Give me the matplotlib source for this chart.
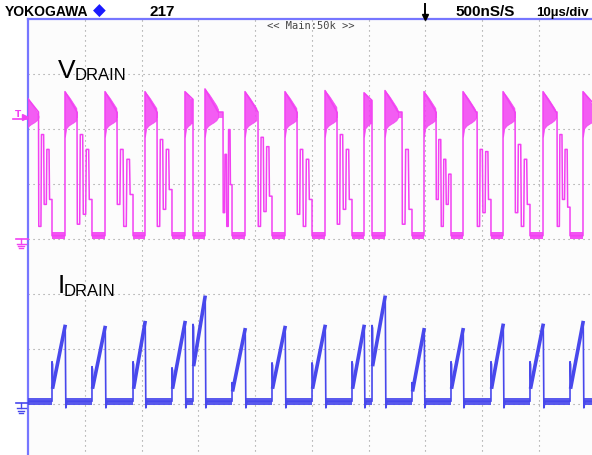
import matplotlib
matplotlib.use("Agg")
import matplotlib.pyplot as plt
from matplotlib.lines import Line2D
import numpy as np

# ---------------- data ----------------
# time axis: 10 us/div, 10 divisions ; vertical: divisions relative to channel ground
t_on_us = [4.18, 11.23, 18.47, 25.34, 29.05, 35.93, 42.98, 50.04, 57.09, 60.62,
           67.67, 74.55, 81.60, 88.48, 95.54]
t_off_us = [6.47, 13.53, 20.58, 27.63, 31.16, 38.22, 45.27, 52.33, 59.21, 62.91,
            69.79, 76.67, 83.73, 90.78, 97.83]

# drain current (div above CH2 ground)
i_peak_div = [1.40, 1.38, 1.47, 1.47, 1.93, 1.34, 1.38, 1.40, 1.40, 1.93,
              1.34, 1.34, 1.42, 1.42, 1.47]
i_spike_div = [0.76, 0.67, 0.76, 0.65, 1.44, 0.38, 0.74, 0.74, 0.76, 1.42,
               0.38, 0.76, 0.76, 0.76, 0.76]
i_ramp0_div = [0.30, 0.30, 0.30, 0.30, 0.71, 0.25, 0.30, 0.30, 0.30, 0.71,
               0.25, 0.30, 0.30, 0.30, 0.30]

# drain voltage (div above CH1 ground); one entry per rising edge (first one before screen start)
v_rise_us = [-0.5] + t_off_us
v_peak_div = [2.60, 2.67, 2.67, 2.67, 2.67, 2.72, 2.67, 2.67, 2.69, 2.65,
              2.69, 2.67, 2.67, 2.67, 2.67, 2.67]
v_plateau_end_us = [1.80, 8.59, 15.64, 22.70, None, 34.34, 40.51, 47.39, 54.44, None,
                    65.91, 71.91, 79.15, 85.85, 93.25, None]
v_ring_div = [
    [0.22, 1.89, 0.62, 1.62, 0.71],
    [0.26, 1.89, 0.44, 1.62, 0.71],
    [0.62, 1.62, 0.22, 1.44, 0.80],
    [0.22, 1.80, 0.53, 1.62, 0.89],
    [],
    [0.47, 1.53, 0.22, 1.98, 0.98],
    [0.22, 1.84, 0.49, 1.67, 0.77],
    [0.44, 1.62, 0.22, 1.44, 0.71],
    [0.26, 1.89, 0.53, 1.62, 0.71],
    [],
    [0.26, 1.62, 0.53],
    [0.71, 1.80, 0.22, 1.44, 0.62, 1.17],
    [0.22, 1.62, 0.47, 1.58, 0.71],
    [0.47, 1.71, 0.22, 1.44, 0.62],
    [0.22, 1.89, 0.71, 1.62, 0.57],
    [],
]
V_PLATEAU = 2.30
V_LOW = 0.05
# ringing envelope right after turn-off (time after edge, drop below peak, lower edge)
band_dt_us = [0.0, 0.2, 0.6, 1.0, 1.5, 2.0, 2.3]
band_top_drop = [0.0, 0.03, 0.08, 0.14, 0.22, 0.30, 0.37]
band_bottom_div = [1.85, 2.00, 2.05, 2.08, 2.11, 2.15, 2.20]

CH1_GND = 4.0
CH2_GND = 1.0
MAG = "#f241f2"
BLU = "#4848ec"

# ---------------- figure ----------------
W, H = 592, 455
fig = plt.figure(figsize=(W / 100, H / 100), dpi=100)
fig.patch.set_facecolor("white")


def fx(x):
    return x / W


def fy(y):
    return 1 - y / H


ax = fig.add_axes([28.3 / W, 1 - 458.5 / H, 567 / W, 440 / H])
ax.set_xlim(0, 100)
ax.set_ylim(0, 8)
ax.set_facecolor("#fcfcfc")
for s in ["right", "bottom"]:
    ax.spines[s].set_visible(False)
for s in ["left", "top"]:
    ax.spines[s].set_color("#7676ff")
    ax.spines[s].set_linewidth(1.6)
ax.set_xticks([])
ax.set_yticks([])
for k in range(1, 10):
    ax.axvline(10 * k, color="#949494", lw=0.8, ls=(0, (1, 3.5)), zorder=1)
for k in range(1, 8):
    ax.axhline(k, color="#949494", lw=0.8, ls=(0, (1, 3.5)), zorder=1)

# ---------------- V_DRAIN trace ----------------
xs, ys = [], []
for i, tr in enumerate(v_rise_us):
    tf = t_on_us[i] if i < len(t_on_us) else 101.0
    pk = v_peak_div[i]
    xs += [tr, tr]
    ys += [V_LOW, pk]
    pe = v_plateau_end_us[i]
    end_band = tf if pe is None else pe
    # ringing band after the edge
    bt = np.array(band_dt_us) + tr
    top = pk - np.array(band_top_drop)
    bot = np.array(band_bottom_div)
    m = bt <= end_band
    ax.fill_between(bt[m], bot[m] + CH1_GND, top[m] + CH1_GND, color=MAG, alpha=0.85,
                    lw=0.6, edgecolor=MAG, zorder=3)
    if pe is None:
        ax.fill_between([bt[m][-1], tf], [bot[m][-1] + CH1_GND] * 2,
                        [top[m][-1] + CH1_GND] * 2,
                        color=MAG, alpha=0.85, lw=0, zorder=3)
        xs += [tf]
        ys += [top[m][-1]]
    else:
        xs += [min(tr + band_dt_us[-1], pe), pe]
        ys += [V_PLATEAU, V_PLATEAU]
        ax.fill_between([tr + band_dt_us[-1], pe], [V_PLATEAU - 0.11 + CH1_GND] * 2,
                        [V_PLATEAU + CH1_GND] * 2, color=MAG, alpha=0.8, lw=0, zorder=3)
        lv = v_ring_div[i]
        dt = (tf - pe) / len(lv)
        for k, L in enumerate(lv):
            xs += [pe + (k + 0.1) * dt, pe + (k + 0.9) * dt]
            ys += [L, L]
        xs += [tf]
        ys += [lv[-1]]
    xs += [tf]
    ys += [V_LOW]
    if i < len(t_on_us):
        ax.fill_between([tf, t_off_us[i]], [0.0 + CH1_GND] * 2, [0.11 + CH1_GND] * 2,
                        color=MAG, alpha=0.9, lw=0, zorder=3)
ax.plot(xs, np.array(ys) + CH1_GND, color=MAG, lw=1.1, zorder=4, clip_on=True)

# ---------------- I_DRAIN trace ----------------
cx, cy = [0.0], [0.04]
prev = 0.0
for i, (ton, toff) in enumerate(zip(t_on_us, t_off_us)):
    ax.fill_between([prev, ton], [-0.02 + CH2_GND] * 2, [0.10 + CH2_GND] * 2,
                    color=BLU, alpha=0.9, lw=0, zorder=3)
    cx += [ton, ton, ton + 0.1, ton + 0.15, toff, toff + 0.05, toff + 0.15, toff + 0.35]
    cy += [0.04, i_spike_div[i], i_spike_div[i] - 0.05, i_ramp0_div[i], i_peak_div[i],
           i_peak_div[i] - 0.1, -0.08, 0.04]
    ax.plot([ton + 0.15, toff], np.array([i_ramp0_div[i], i_peak_div[i]]) + CH2_GND,
            color=BLU, lw=2.6, zorder=4)
    prev = toff + 0.15
ax.fill_between([prev, 100], [-0.02 + CH2_GND] * 2, [0.10 + CH2_GND] * 2,
                color=BLU, alpha=0.9, lw=0, zorder=3)
cx += [100.0]
cy += [0.04]
ax.plot(cx, np.array(cy) + CH2_GND, color=BLU, lw=1.2, zorder=4)

# ---------------- texts ----------------
sans = "Liberation Sans"
fig.text(fx(58), fy(78), "V", fontsize=19, family=sans, va="baseline", ha="left")
fig.text(fx(75), fy(80), "DRAIN", fontsize=12, family=sans, va="baseline", ha="left")
fig.text(fx(58), fy(293), "I", fontsize=19, family=sans, va="baseline", ha="left")
fig.text(fx(64), fy(296), "DRAIN", fontsize=12, family=sans, va="baseline", ha="left")

fig.text(fx(311), fy(29), "<< Main:50k >>", fontsize=7.5, family="DejaVu Sans Mono",
         color="#454545", ha="center", va="baseline")

fig.text(fx(5), fy(16), "YOKOGAWA", fontsize=10, family=sans, weight="bold",
         va="baseline", ha="left")
fig.text(fx(99), fy(11), "\u25C6", fontsize=12, color="#1a1aff", ha="center", va="center",
         family="DejaVu Sans")
fig.text(fx(150), fy(16), "217", fontsize=11, family=sans, weight="bold",
         va="baseline", ha="left")
fig.text(fx(455), fy(16), "500nS/S", fontsize=11, family=sans, weight="bold",
         va="baseline", ha="left")
fig.text(fx(536), fy(16), "10\u00b5s/div", fontsize=9.5, family=sans, weight="bold",
         va="baseline", ha="left")

# trigger position marker at top
fig.add_artist(Line2D([fx(425), fx(425)], [fy(4), fy(17)], color="black", lw=1.4))
fig.add_artist(Line2D([fx(425)], [fy(17)], marker="v", color="black", markersize=4.5, lw=0))


def ground(y, color):
    fig.add_artist(Line2D([fx(16), fx(28)], [fy(y), fy(y)], color=color, lw=1.2))
    fig.add_artist(Line2D([fx(21), fx(21)], [fy(y), fy(y + 5)], color=color, lw=1.0))
    for dy, hw in [(5, 4.5), (7.5, 3), (10, 1.5)]:
        fig.add_artist(Line2D([fx(21 - hw), fx(21 + hw)], [fy(y + dy), fy(y + dy)],
                              color=color, lw=1.0))


ground(238.5, MAG)
ground(403, BLU)

# trigger level marker (CH1)
fig.text(fx(18), fy(117), "T", fontsize=6.5, color=MAG, weight="bold", family="DejaVu Sans",
         ha="center", va="baseline")
fig.add_artist(Line2D([fx(13), fx(27)], [fy(119), fy(119)], color=MAG, lw=1.2))
fig.add_artist(Line2D([fx(25)], [fy(117)], marker=">", color=MAG, markersize=5, lw=0))

fig.savefig("out.png", dpi=100, facecolor="white")
